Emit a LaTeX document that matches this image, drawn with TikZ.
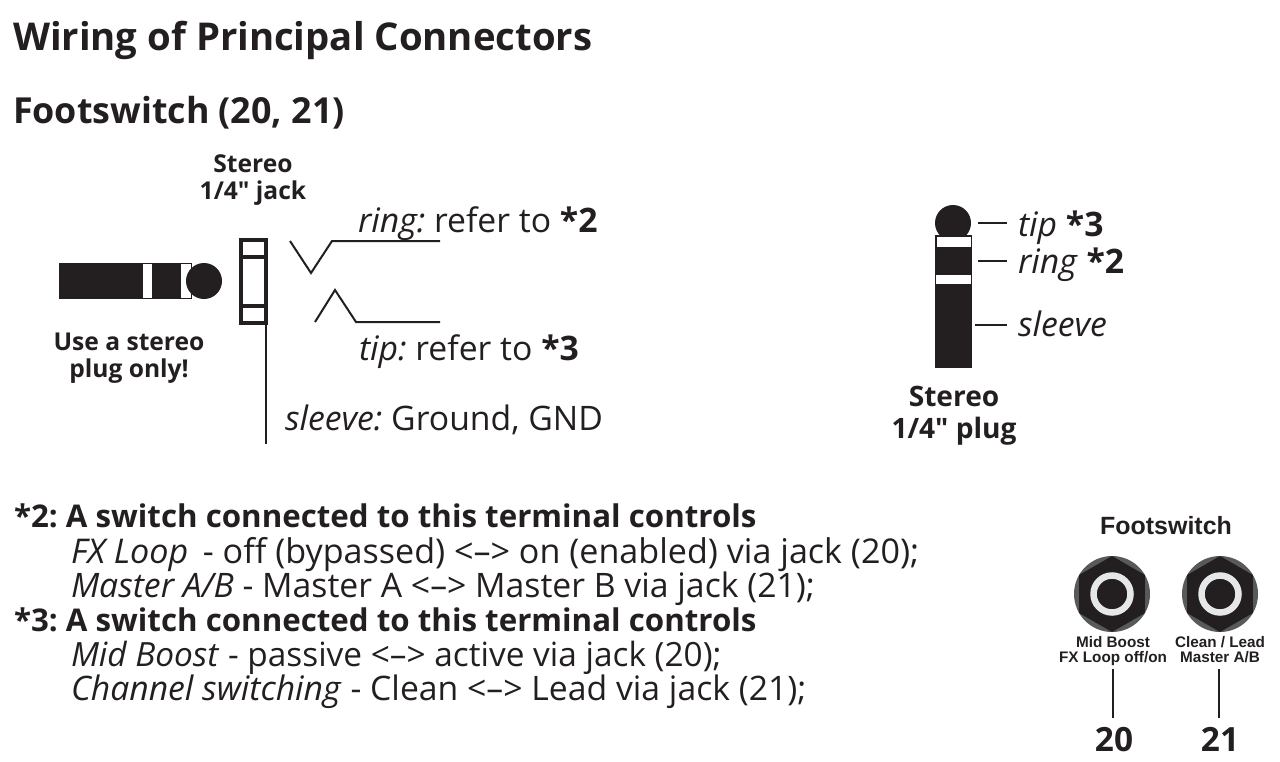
\documentclass[tikz,border=0pt]{standalone}
\usepackage{fontspec}
\setmainfont{Open Sans}[Ligatures=TeXOff]
\newfontfamily\arialfont{Liberation Sans}
\usetikzlibrary{shapes.geometric}
\definecolor{inkblack}{HTML}{231F20}
\definecolor{nutgray}{HTML}{58595B}
\definecolor{ringgray}{HTML}{E6E7E8}
\frenchspacing

\begin{document}
\begin{tikzpicture}[x=0.02cm,y=-0.02cm,
    every node/.style={inner sep=0pt,outer sep=0pt,text=inkblack},
    txt/.style={anchor=base west,font=\fontsize{19.2}{19.2}\selectfont},
    boldtxt/.style={anchor=base west,font=\fontsize{17.8}{17.8}\selectfont\bfseries},
    head/.style={anchor=base west,font=\fontsize{21.8}{21.8}\selectfont\bfseries},
    subhead/.style={anchor=base west,font=\fontsize{20.4}{20.4}\selectfont\bfseries},
    plugcap/.style={anchor=base,font=\fontsize{16}{16}\selectfont\bfseries},
    smallcap/.style={anchor=base,font=\fontsize{14}{14}\selectfont\bfseries},
    panel/.style={anchor=base,font=\arialfont\fontsize{8.7}{8.7}\selectfont\bfseries},
    wire/.style={draw=inkblack,line width=0.04cm},
    jackframe/.style={draw=inkblack,line width=0.065cm},
    lead/.style={draw=inkblack,line width=0.028cm},
    nut/.style={circle,fill=nutgray,minimum size=1.52cm},
    hexnut/.style={regular polygon,regular polygon sides=6,shape border rotate=30,fill=inkblack,minimum size=1.52cm},
    socket/.style={circle,draw=ringgray,fill=inkblack,line width=0.13cm,minimum size=0.74cm}]

    \useasboundingbox (0,0) rectangle (1280,761);

    % headings
    \node[head]    (title) at (13, 50)   {Wiring of Principal Connectors};
    \node[subhead] (foot)  at (13, 123)  {Footswitch (20, 21)};

    % plug, lying down
    \fill[inkblack] (59,263) rectangle (192,299);
    \fill[white]    (143,264) rectangle (152,298);
    \fill[white]    (181,264) rectangle (191,298);
    \fill[inkblack] (204,281) circle [radius=18];
    \node[smallcap] (use)  at (129, 350) {Use a stereo};
    \node[smallcap] (only) at (129, 377) {plug only!};

    % jack
    \node[smallcap] (jack1) at (253, 172) {Stereo};
    \node[smallcap] (jack2) at (253, 199) {1/4" jack};
    \draw[jackframe] (241,240) rectangle (266,323);
    \draw[jackframe] (241,257) -- (266,257);
    \draw[jackframe] (241,306) -- (266,306);

    \coordinate (s0) at (266,323);
    \coordinate (s1) at (266,444);
    \draw[lead] (s0) -- (s1);

    \coordinate (r0) at (290,241);
    \coordinate (r1) at (311,273);
    \coordinate (r2) at (332,241);
    \coordinate (r3) at (440,241);
    \draw[wire] (r0) -- (r1) -- (r2) -- (r3);

    \coordinate (t0) at (315,322);
    \coordinate (t1) at (335,290);
    \coordinate (t2) at (356,322);
    \coordinate (t3) at (440,322);
    \draw[wire] (t0) -- (t1) -- (t2) -- (t3);

    \node[txt] (ringtxt)   at (358, 232) {\textit{ring:} refer to \textbf{*2}};
    \node[txt] (tiptxt)    at (359, 360) {\textit{tip:} refer to \textbf{*3}};
    \node[txt] (sleevetxt) at (285, 430) {\textit{sleeve:} Ground, GND};

    % plug, standing
    \fill[inkblack] (953,223) circle [radius=18];
    \fill[inkblack] (935,235) rectangle (972,368);
    \fill[white]    (937,237) rectangle (971,247);
    \fill[white]    (936,275) rectangle (971,284);

    \node[txt] (tipr)    at (1018, 236) {\textit{tip} \textbf{*3}};
    \node[txt] (ringr)   at (1018, 273) {\textit{ring} \textbf{*2}};
    \node[txt] (sleever) at (1018, 336) {\textit{sleeve}};
    \coordinate (a0) at (978,223);
    \coordinate (a1) at (1007,223);
    \coordinate (b0) at (978,261);
    \coordinate (b1) at (1007,261);
    \coordinate (c0) at (975,325);
    \coordinate (c1) at (1007,325);
    \draw[lead] (a0) -- (a1);
    \draw[lead] (b0) -- (b1);
    \draw[lead] (c0) -- (c1);

    \node[plugcap] (plug1) at (954, 406) {Stereo};
    \node[plugcap] (plug2) at (954, 438) {1/4" plug};

    % notes
    \node[boldtxt] (n1) at (14, 527) {*2: A switch connected to this terminal controls};
    \node[txt] (n2) at (71, 563) {\fontsize{19.4}{19.4}\selectfont\textit{FX Loop}\, - off (bypassed) <–> on (enabled) via jack (20);};
    \node[txt] (n3) at (71, 597) {\textit{Master A/B} - Master A <–> Master B via jack (21);};
    \node[boldtxt] (n4) at (14, 631) {*3: A switch connected to this terminal controls};
    \node[txt] (n5) at (71, 666) {\fontsize{19}{19}\selectfont\textit{Mid Boost} - passive <–> active via jack (20);};
    \node[txt] (n6) at (71, 700) {\textit{Channel switching} - Clean <–> Lead via jack (21);};

    % footswitch panel
    \node[anchor=base,font=\arialfont\fontsize{14.2}{14.2}\selectfont\bfseries] (fs) at (1166, 534) {Footswitch};

    \node[nut]    (n20) at (1112, 594) {};
    \node[hexnut] (h20) at (1112, 594) {};
    \node[socket] (s20) at (1112, 594) {};
    \node[nut]    (n21) at (1220, 594) {};
    \node[hexnut] (h21) at (1220, 594) {};
    \node[socket] (s21) at (1220, 594) {};

    \node[panel] (mid)   at (1113, 647) {Mid Boost};
    \node[panel] (fx)    at (1113, 662) {FX Loop off/on};
    \node[panel] (clean) at (1220, 647) {Clean / Lead};
    \node[panel] (mas)   at (1220, 662) {Master A/B};

    \node[anchor=base,font=\fontsize{19}{19}\selectfont\bfseries] (j20) at (1114, 751) {20};
    \node[anchor=base,font=\fontsize{19}{19}\selectfont\bfseries] (j21) at (1220, 751) {21};

    \coordinate (l0) at (1113,669);
    \coordinate (l1) at (1113,718);
    \coordinate (m0) at (1219,669);
    \coordinate (m1) at (1219,718);
    \draw[lead] (l0) -- (l1);
    \draw[lead] (m0) -- (m1);
  \end{tikzpicture}
\end{document}
